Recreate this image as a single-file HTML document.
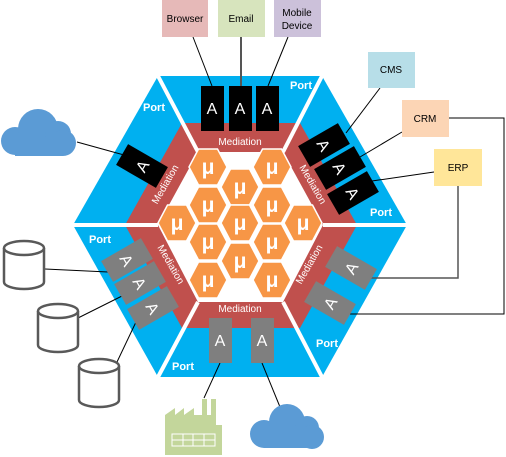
<!DOCTYPE html>
<html><head><meta charset="utf-8"><style>html,body{margin:0;padding:0;background:#fff}svg{display:block}text{font-family:"Liberation Sans",sans-serif}</style></head><body>
<svg width="506" height="457" viewBox="0 0 506 457" xmlns="http://www.w3.org/2000/svg">
<polygon points="158,76 322,76 407,225 322,377 158,377 73,225" fill="#00b0f0"/>
<polygon points="182,123 300,123 357,225 300,328 182,328 125,225" fill="#c0504d"/>
<polygon points="198,152 283,152 323,225 283,302 198,302 158,225" fill="#fff"/>
<g stroke="#fff" stroke-width="4">
<line x1="158" y1="76" x2="198" y2="152"/>
<line x1="322" y1="76" x2="283" y2="152"/>
<line x1="407" y1="225" x2="323" y2="225"/>
<line x1="322" y1="377" x2="283" y2="302"/>
<line x1="158" y1="377" x2="198" y2="302"/>
<line x1="73" y1="225" x2="158" y2="225"/>
</g>
<g stroke="#000" stroke-width="1" fill="none">
<line x1="193" y1="37" x2="212" y2="86"/>
<line x1="241" y1="37" x2="241" y2="86" stroke="#555" stroke-width="2"/>
<line x1="288" y1="37" x2="268" y2="86"/>
<line x1="380" y1="88" x2="346" y2="133"/>
<line x1="402" y1="132" x2="360" y2="157"/>
<line x1="434" y1="172" x2="372" y2="181"/>
<polyline points="449,118 504,118 504,314 350,314"/>
<polyline points="458,186 458,278 362,278" stroke="#555" stroke-width="1.5"/>
<line x1="77" y1="142" x2="124" y2="155"/>
<line x1="45" y1="269" x2="108" y2="272"/>
<line x1="78" y1="318" x2="122" y2="296"/>
<line x1="117" y1="362" x2="136" y2="322"/>
<line x1="204" y1="398" x2="220" y2="363"/>
<line x1="262" y1="363" x2="280" y2="407"/>
</g>
<g fill="#f79646" stroke="#fff" stroke-width="1.5">
<polygon id="h" points="-19,0 -9.5,-18 9.5,-18 19,0 9.5,18 -9.5,18" transform="translate(240,187)"/>
<use href="#h" x="0" y="36"/><use href="#h" x="0" y="74"/>
<use href="#h" x="-32" y="-20"/><use href="#h" x="-32" y="18"/><use href="#h" x="-32" y="55"/><use href="#h" x="-32" y="93"/>
<use href="#h" x="32" y="-20"/><use href="#h" x="32" y="18"/><use href="#h" x="32" y="55"/><use href="#h" x="32" y="93"/>
<use href="#h" x="-63" y="36"/><use href="#h" x="63" y="36"/>
</g>
<g fill="#fff" font-size="21" font-weight="bold" text-anchor="middle">
<text x="240" y="194">μ</text><text x="240" y="230">μ</text><text x="240" y="268">μ</text>
<text x="208" y="174">μ</text><text x="208" y="212">μ</text><text x="208" y="249">μ</text><text x="208" y="287">μ</text>
<text x="272" y="174">μ</text><text x="272" y="212">μ</text><text x="272" y="249">μ</text><text x="272" y="287">μ</text>
<text x="177" y="230">μ</text><text x="303" y="230">μ</text>
</g>
<g fill="#fff" font-size="11" font-weight="bold" text-anchor="middle">
<text x="301" y="89">Port</text><text x="154" y="111">Port</text><text x="381" y="216">Port</text>
<text x="100" y="243">Port</text><text x="327" y="347">Port</text><text x="183" y="370">Port</text>
</g>
<g fill="#fff" font-size="10" text-anchor="middle">
<text x="240" y="145">Mediation</text><text x="240" y="312">Mediation</text>
<text transform="translate(168,186) rotate(-60)">Mediation</text>
<text transform="translate(310,186) rotate(60)">Mediation</text>
<text transform="translate(168,266) rotate(60)">Mediation</text>
<text transform="translate(312,266) rotate(-60)">Mediation</text>
</g>
<g font-size="16" text-anchor="middle" fill="#fff">
<rect x="201" y="86" width="23" height="45" fill="#000"/><text x="212" y="114">A</text>
<rect x="229" y="86" width="23" height="45" fill="#000"/><text x="240" y="114">A</text>
<rect x="256" y="86" width="23" height="45" fill="#000"/><text x="267" y="114">A</text>
<g transform="translate(142,166) rotate(-60)"><rect x="-12" y="-23" width="24" height="46" fill="#000"/><text y="6">A</text></g>
<g transform="translate(324,145) rotate(60)"><rect x="-12" y="-23" width="24" height="46" fill="#000"/><text y="6">A</text></g>
<g transform="translate(340,168) rotate(60)"><rect x="-12" y="-23" width="24" height="46" fill="#000"/><text y="6">A</text></g>
<g transform="translate(353,193) rotate(60)"><rect x="-12" y="-23" width="24" height="46" fill="#000"/><text y="6">A</text></g>
<g transform="translate(127,260) rotate(60)"><rect x="-12" y="-23" width="24" height="46" fill="#7f7f7f"/><text y="6">A</text></g>
<g transform="translate(140,283) rotate(60)"><rect x="-12" y="-23" width="24" height="46" fill="#7f7f7f"/><text y="6">A</text></g>
<g transform="translate(153,308) rotate(60)"><rect x="-12" y="-23" width="24" height="46" fill="#7f7f7f"/><text y="6">A</text></g>
<g transform="translate(351,268) rotate(-60)"><rect x="-12" y="-23" width="24" height="46" fill="#7f7f7f"/><text y="6">A</text></g>
<g transform="translate(330,303) rotate(-60)"><rect x="-12" y="-23" width="24" height="46" fill="#7f7f7f"/><text y="6">A</text></g>
<rect x="209" y="318" width="23" height="45" fill="#7f7f7f"/><text x="220" y="346">A</text>
<rect x="251" y="318" width="23" height="45" fill="#7f7f7f"/><text x="262" y="346">A</text>
</g>
<g font-size="10" text-anchor="middle" fill="#000">
<rect x="162" y="0" width="46" height="37" fill="#e6b9b8"/><text x="185" y="22">Browser</text>
<rect x="218" y="0" width="47" height="37" fill="#d7e4bd"/><text x="241" y="22">Email</text>
<rect x="274" y="0" width="47" height="37" fill="#ccc1da"/><text x="297" y="16">Mobile</text><text x="297" y="29">Device</text>
<rect x="368" y="52" width="47" height="36" fill="#b7dee8"/><text x="391" y="73">CMS</text>
<rect x="402" y="100" width="47" height="37" fill="#fcd5b5"/><text x="425" y="122">CRM</text>
<rect x="434" y="149" width="48" height="37" fill="#ffe699"/><text x="458" y="171">ERP</text>
</g>
<g fill="#5b9bd5">
<circle cx="15" cy="141" r="14"/><circle cx="38" cy="129" r="20"/><circle cx="58" cy="134" r="13"/><circle cx="63" cy="143" r="13"/><rect x="15" y="138" width="48" height="18"/>
<circle cx="264" cy="434" r="14"/><circle cx="287" cy="422" r="18"/><circle cx="307" cy="428" r="12"/><circle cx="312" cy="437" r="12"/><rect x="264" y="430" width="48" height="18"/>
</g>
<g fill="#fff" stroke="#595959" stroke-width="2.5">
<path d="M4,248 V282 A20,7 0 0 0 44,282 V248"/><ellipse cx="24" cy="248" rx="20" ry="7"/>
<path d="M38,311 V345 A20,7 0 0 0 78,345 V311"/><ellipse cx="58" cy="311" rx="20" ry="7"/>
<path d="M79,366 V400 A20,7 0 0 0 119,400 V366"/><ellipse cx="99" cy="366" rx="20" ry="7"/>
</g>
<g fill="#c3d69b">
<polygon points="165,455 165,415 175,408 175,415 184,408 184,415 194,408 194,415 202,415 202,399 207,399 207,415 211,415 211,399 216,399 216,425 222,425 222,455"/>
</g>
<g fill="none" stroke="#fff" stroke-width="1">
<rect x="172" y="434" width="43" height="12"/><line x1="172" y1="440" x2="215" y2="440"/>
<line x1="183" y1="434" x2="183" y2="446"/><line x1="193" y1="434" x2="193" y2="446"/><line x1="204" y1="434" x2="204" y2="446"/>
</g>
</svg>
</body></html>
